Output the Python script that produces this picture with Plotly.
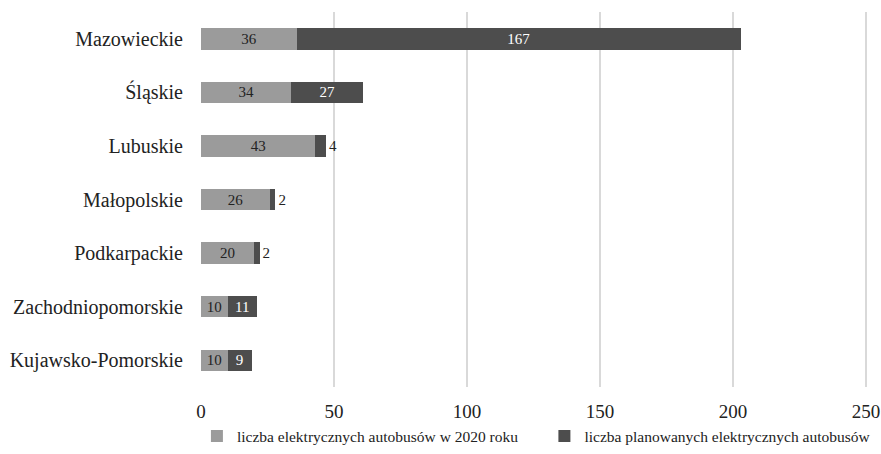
import plotly.graph_objects as go

regions = ["Mazowieckie", "Śląskie", "Lubuskie", "Małopolskie", "Podkarpackie",
           "Zachodniopomorskie", "Kujawsko-Pomorskie"]
buses_2020 = [36, 34, 43, 26, 20, 10, 10]
buses_planned = [167, 27, 4, 2, 2, 11, 9]

series_names = ["liczba elektrycznych autobusów w 2020 roku",
                "liczba planowanych elektrycznych autobusów"]
x_ticks = [0, 50, 100, 150, 200, 250]

LIGHT = "#9b9b9b"
DARK = "#4d4d4d"
FONT = "Liberation Serif"
TXT = "#222222"

# small planned counts don't fit inside their bar segment -> print them outside
planned_pos = ["inside" if v >= 5 else "outside" for v in buses_planned]
planned_col = ["#ffffff" if v >= 5 else TXT for v in buses_planned]

fig = go.Figure()
fig.add_trace(go.Bar(
    y=regions, x=buses_2020, orientation="h", name=series_names[0],
    marker=dict(color=LIGHT, line=dict(width=0)),
    text=[str(v) for v in buses_2020], textposition="inside",
    insidetextanchor="middle", textangle=0,
    textfont=dict(family=FONT, size=15, color=TXT),
    constraintext="none", hoverinfo="x+y", legend="legend",
))
fig.add_trace(go.Bar(
    y=regions, x=buses_planned, orientation="h", name=series_names[1],
    marker=dict(color=DARK, line=dict(width=0)),
    text=[str(v) for v in buses_planned], textposition=planned_pos,
    insidetextanchor="middle", textangle=0,
    textfont=dict(family=FONT, size=15, color=planned_col),
    constraintext="none", cliponaxis=False, hoverinfo="x+y", legend="legend2",
))

legend_style = dict(orientation="h", xanchor="left", yanchor="middle", y=-0.132,
                    font=dict(family=FONT, size=15.5, color=TXT),
                    itemwidth=30, bgcolor="rgba(0,0,0,0)")

# right margin kept at 0 (axis range padded instead) so legends don't push margins
fig.update_layout(
    barmode="stack",
    bargap=0.6,
    width=881, height=454,
    margin=dict(l=201, r=0, t=12, b=64),
    paper_bgcolor="white", plot_bgcolor="white",
    font=dict(family=FONT, size=19, color=TXT),
    showlegend=True,
    legend=dict(x=-0.006, **legend_style),
    legend2=dict(x=0.505, **legend_style),
    xaxis=dict(range=[0, 255.64], tickvals=x_ticks, ticktext=[str(t) for t in x_ticks],
               showgrid=True, gridcolor="#d9d9d9", gridwidth=2,
               zeroline=False, showline=False, ticks="outside", ticklen=7,
               tickcolor="rgba(0,0,0,0)", automargin=False,
               tickfont=dict(family=FONT, size=19, color=TXT)),
    yaxis=dict(autorange="reversed", showgrid=False, zeroline=False, showline=False,
               ticks="outside", ticklen=13, tickcolor="rgba(0,0,0,0)", automargin=False,
               tickfont=dict(family=FONT, size=20, color=TXT)),
)

fig.write_html("out.html")
